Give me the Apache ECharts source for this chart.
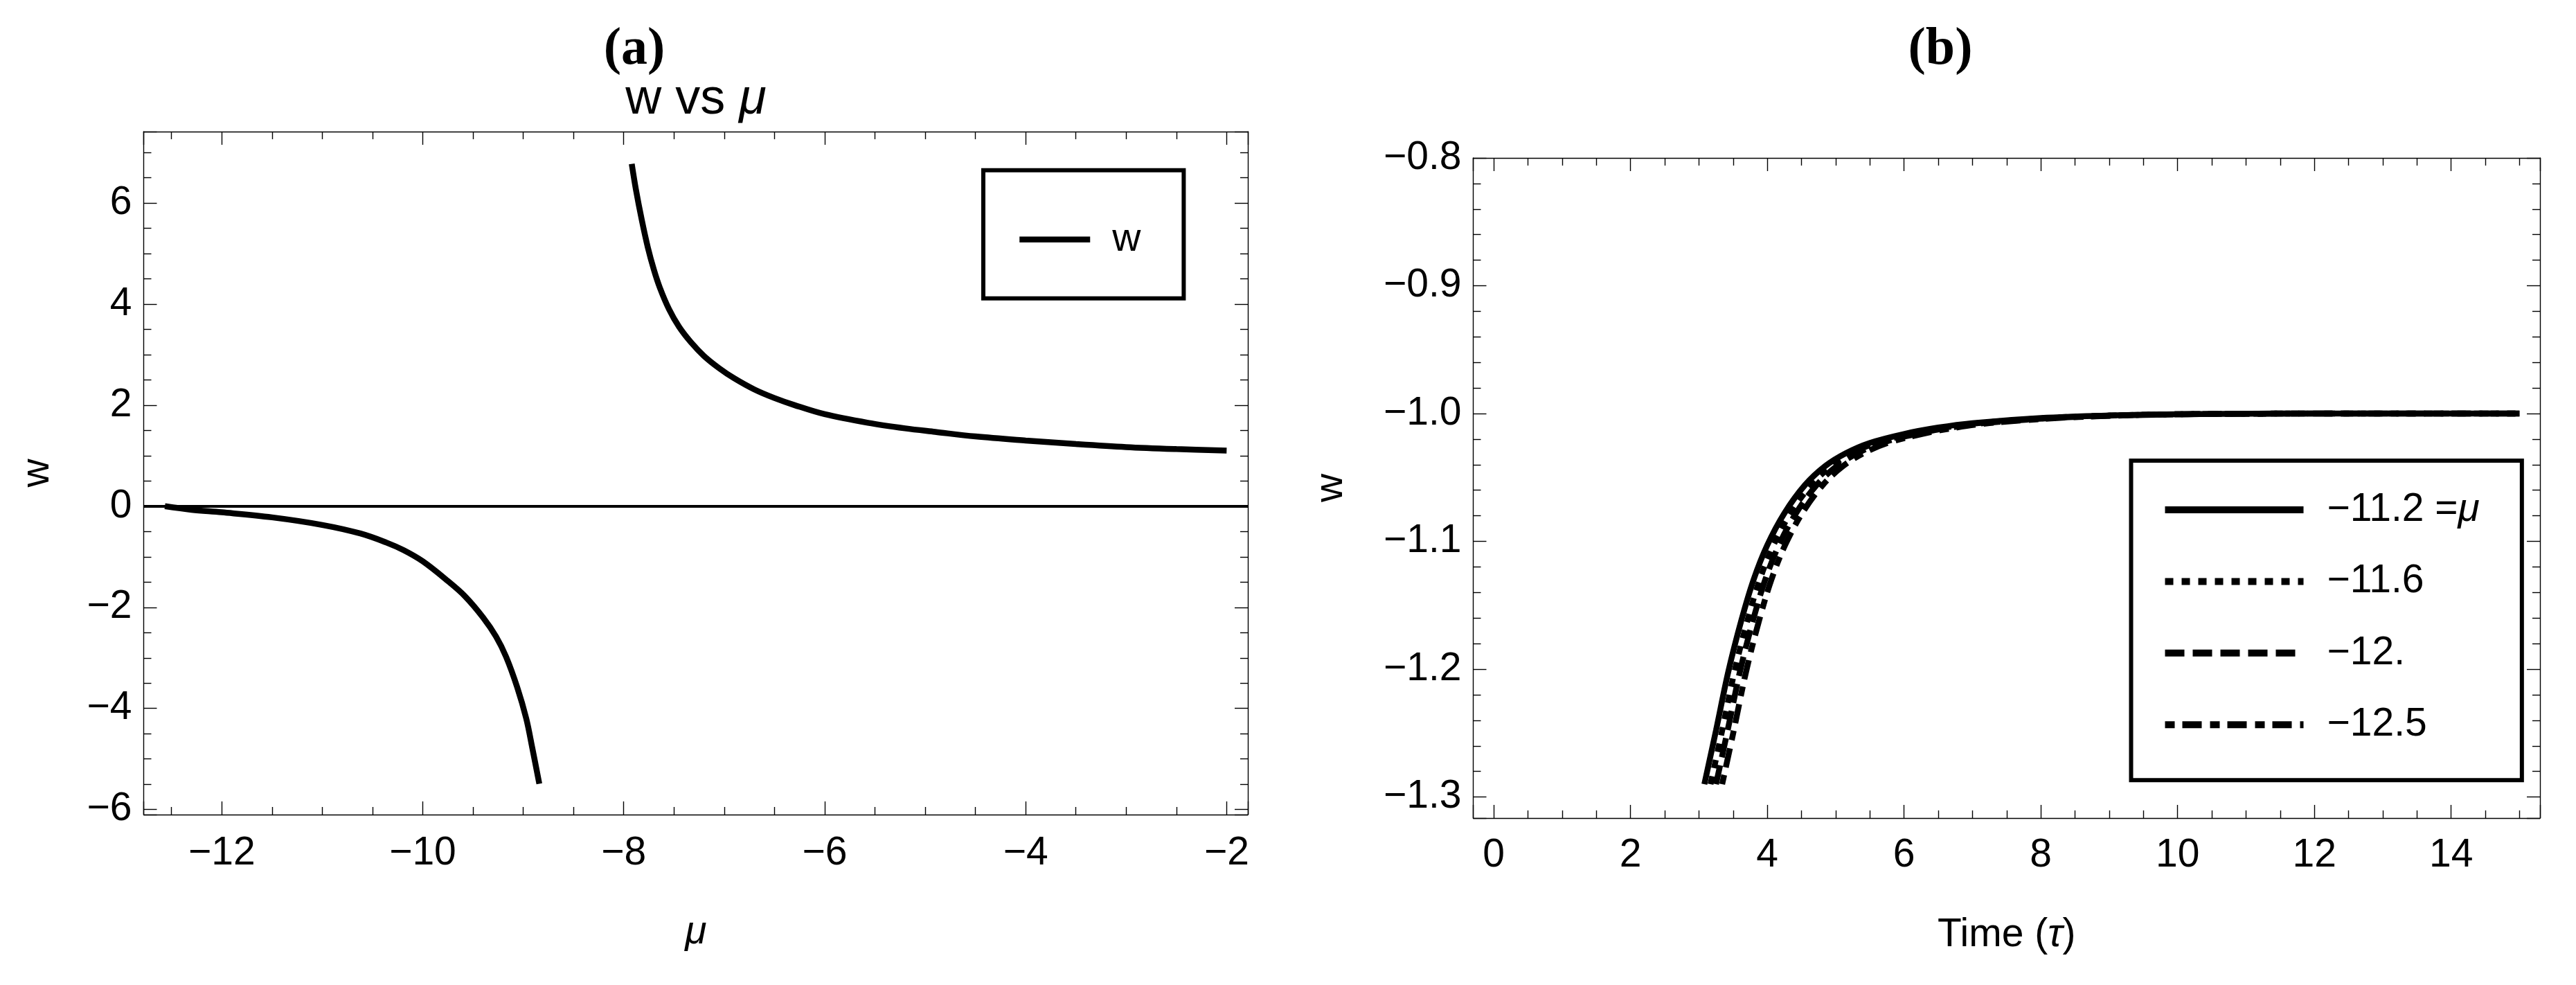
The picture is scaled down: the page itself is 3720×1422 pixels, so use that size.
<!DOCTYPE html>
<html>
<head>
<meta charset="utf-8">
<title>w vs mu</title>
<script src="https://cdn.jsdelivr.net/npm/echarts@6/dist/echarts.min.js"></script>
<style>
  html, body { margin: 0; padding: 0; background: #fff; }
  #chart { width: 3720px; height: 1422px; }
</style>
</head>
<body>
<div id="chart"></div>
<script>
// panel (a): w against mu, two branches around the pole
const muUpper = [-7.92, -7.88, -7.82, -7.76, -7.70, -7.64, -7.55, -7.45, -7.33, -7.20, -7.05, -6.90, -6.70, -6.50, -6.30, -6.00, -5.57, -5.20, -4.90, -4.50, -4.00, -3.50, -3.00, -2.50, -2.00]
const wUpper = [6.77, 6.28, 5.66, 5.12, 4.68, 4.32, 3.90, 3.55, 3.24, 2.97, 2.73, 2.53, 2.31, 2.14, 2.00, 1.82, 1.65, 1.54, 1.47, 1.38, 1.30, 1.23, 1.17, 1.13, 1.10]
const muLower = [-12.566, -12.30, -12.00, -11.50, -11.00, -10.62, -10.36, -10.19, -10.00, -9.75, -9.58, -9.40, -9.27, -9.17, -9.06, -8.97, -8.91, -8.84]
const wLower = [0, -0.07, -0.12, -0.22, -0.37, -0.54, -0.72, -0.87, -1.09, -1.48, -1.78, -2.20, -2.58, -2.98, -3.58, -4.20, -4.78, -5.49]

// panel (b): w against time, one curve per mu
const muNames = ['−11.2', '−11.6', '−12.', '−12.5']
const wTime = [-1.290, -1.248, -1.202, -1.162, -1.130, -1.103, -1.078, -1.056, -1.041, -1.031, -1.023, -1.016, -1.011, -1.0075, -1.0035, -1.0015, -1.0005, -1.0, -1.0]
const tauMu112 = [3.08, 3.25, 3.43, 3.62, 3.80, 4.00, 4.25, 4.55, 4.85, 5.15, 5.50, 6.00, 6.50, 7.00, 8.00, 9.00, 10.0, 12.0, 15.0]
const tauMu116 = [3.17, 3.34, 3.52, 3.71, 3.89, 4.09, 4.34, 4.64, 4.94, 5.24, 5.59, 6.09, 6.59, 7.09, 8.09, 9.08, 10.05, 12.0, 15.0]
const tauMu120 = [3.25, 3.42, 3.60, 3.79, 3.97, 4.17, 4.42, 4.72, 5.02, 5.32, 5.67, 6.17, 6.67, 7.17, 8.16, 9.14, 10.1, 12.0, 15.0]
const tauMu125 = [3.34, 3.51, 3.69, 3.88, 4.06, 4.26, 4.51, 4.81, 5.11, 5.41, 5.76, 6.26, 6.76, 7.25, 8.24, 9.20, 10.15, 12.0, 15.0]

// plot ranges (data range plus mathematica's 2% padding)
const muRange = [-12.777, -1.789]
const wRange = [-6.1, 7.41]
const tauRange = [-0.3, 15.3]
const wTimeRange = [-1.3165, -0.8]

const font = '"Liberation Sans", Arial, sans-serif'
const black = '#000'

function pairs(xs, ys) {
  return xs.map((x, i) => [x, ys[i]])
}

function minus(s) {
  return String(s).replace('-', '−')
}

// label only the ticks that sit on the step, hide the padded ends
function stepLabel(step, digits) {
  return function(v) {
    const k = v / step
    if (Math.abs(k - Math.round(k)) > 1e-6) {
      return ''
    }
    return minus(digits ? v.toFixed(digits) : String(Math.round(v)))
  }
}

function frameAxis(opts) {
  const tickLine = { color: black, width: 1.4 }
  return Object.assign({
    type: 'value',
    axisLine: { show: true, onZero: false, lineStyle: tickLine },
    axisTick: { show: true, inside: true, length: 19, lineStyle: tickLine },
    minorTick: { show: true, splitNumber: 4, length: 11, lineStyle: tickLine },
    splitLine: { show: false },
    minorSplitLine: { show: false },
    axisLabel: { show: false }
  }, opts)
}

// axisIdx points at the bottom x axis / left y axis of the panel
function curve(name, axisIdx, xs, ys, dash, extra) {
  return Object.assign({
    name: name,
    type: 'line',
    xAxisIndex: axisIdx,
    yAxisIndex: axisIdx,
    showSymbol: false,
    symbol: 'none',
    smooth: 0.35,
    lineStyle: { color: black, width: 8.5, type: dash || 'solid' },
    itemStyle: { color: black },
    data: pairs(xs, ys)
  }, extra || {})
}

const labelStyle = { fontFamily: font, fontSize: 57, color: black }
const serif = '"Liberation Serif", "Times New Roman", serif'

const chart = echarts.init(document.getElementById('chart'))

const option = {
  animation: false,
  backgroundColor: '#fff',
  title: [{
    text: '(a)',
    left: 916,
    top: 72,
    padding: 0,
    textAlign: 'center',
    textVerticalAlign: 'middle',
    textStyle: { fontFamily: serif, fontWeight: 'bold', fontSize: 76, color: black }
  }, {
    text: '(b)',
    left: 2802,
    top: 72,
    padding: 0,
    textAlign: 'center',
    textVerticalAlign: 'middle',
    textStyle: { fontFamily: serif, fontWeight: 'bold', fontSize: 76, color: black }
  }, {
    text: 'w vs {i|μ}',
    left: 1005,
    top: 144,
    padding: 0,
    textAlign: 'center',
    textVerticalAlign: 'middle',
    textStyle: {
      fontFamily: font, fontWeight: 'normal', fontSize: 72, color: black,
      rich: { i: { fontFamily: font, fontSize: 72, fontStyle: 'italic', color: black } }
    }
  }],
  grid: [
    { left: 207.5, top: 190, width: 1594.5, height: 986, outerBoundsMode: 'none' },
    { left: 2127.5, top: 228, width: 1540.5, height: 953, outerBoundsMode: 'none' }
  ],
  legend: [{
    data: ['w'],
    orient: 'vertical',
    left: 1420,
    top: 245.8,
    padding: [70, 62, 55, 48],
    backgroundColor: '#fff',
    borderColor: black,
    borderWidth: 6,
    borderRadius: 0,
    itemWidth: 102,
    itemHeight: 2,
    itemGap: 0,
    selectedMode: false,
    lineStyle: { width: 8.5 },
    textStyle: { fontFamily: font, fontSize: 57, lineHeight: 60, color: black, padding: [0, 0, 0, 27] }
  }, {
    data: muNames,
    orient: 'vertical',
    left: 3077.5,
    top: 665,
    padding: [41, 61, 50, 44],
    backgroundColor: '#fff',
    borderColor: black,
    borderWidth: 6,
    borderRadius: 0,
    itemWidth: 200,
    itemHeight: 2,
    itemGap: 43.4,
    selectedMode: false,
    lineStyle: { width: 10 },
    formatter(name) {
      return name === muNames[0] ? name + ' ={i|μ}' : name
    },
    textStyle: {
      fontFamily: font, fontSize: 57, lineHeight: 60, color: black, padding: [0, 0, 0, 29],
      rich: { i: { fontFamily: font, fontSize: 57, fontStyle: 'italic', color: black } }
    }
  }],
  xAxis: [
    frameAxis({
      gridIndex: 0, position: 'bottom', min: muRange[0], max: muRange[1], splitNumber: 5,
      axisLabel: { show: true, margin: 28, formatter: stepLabel(2, 0), showMinLabel: false, showMaxLabel: false, ...labelStyle },
      name: 'μ', nameLocation: 'middle', nameGap: 142,
      nameTextStyle: { ...labelStyle, fontStyle: 'italic' }
    }),
    frameAxis({ gridIndex: 0, position: 'top', min: muRange[0], max: muRange[1], splitNumber: 5 }),
    frameAxis({
      gridIndex: 1, position: 'bottom', min: tauRange[0], max: tauRange[1], splitNumber: 8,
      axisLabel: { show: true, margin: 26, formatter: stepLabel(2, 0), showMinLabel: false, showMaxLabel: false, ...labelStyle },
      name: 'Time ({i|τ})', nameLocation: 'middle', nameGap: 141,
      nameTextStyle: { ...labelStyle, rich: { i: { ...labelStyle, fontStyle: 'italic' } } }
    }),
    frameAxis({ gridIndex: 1, position: 'top', min: tauRange[0], max: tauRange[1], splitNumber: 8 })
  ],
  yAxis: [
    frameAxis({
      gridIndex: 0, position: 'left', min: wRange[0], max: wRange[1], splitNumber: 7,
      axisLabel: { show: true, margin: 17, formatter: stepLabel(2, 0), showMinLabel: false, showMaxLabel: false, ...labelStyle },
      name: 'w', nameLocation: 'middle', nameGap: 125,
      nameTextStyle: labelStyle
    }),
    frameAxis({ gridIndex: 0, position: 'right', min: wRange[0], max: wRange[1], splitNumber: 7 }),
    frameAxis({
      gridIndex: 1, position: 'left', min: wTimeRange[0], max: wTimeRange[1], splitNumber: 5,
      minorTick: { show: true, splitNumber: 5, length: 11, lineStyle: { color: black, width: 1.4 } },
      axisLabel: { show: true, margin: 17, formatter: stepLabel(0.1, 1), showMinLabel: false, ...labelStyle },
      name: 'w', nameLocation: 'middle', nameGap: 177,
      nameTextStyle: labelStyle
    }),
    frameAxis({
      gridIndex: 1, position: 'right', min: wTimeRange[0], max: wTimeRange[1], splitNumber: 5,
      minorTick: { show: true, splitNumber: 5, length: 11, lineStyle: { color: black, width: 1.4 } }
    })
  ],
  series: [
    curve('w', 0, muUpper, wUpper),
    curve('w', 0, muLower, wLower, 'solid', {
      markLine: {
        silent: true,
        symbol: 'none',
        label: { show: false },
        lineStyle: { color: black, width: 3.8, type: 'solid' },
        data: [{ yAxis: 0 }]
      }
    }),
    curve(muNames[0], 2, tauMu112, wTime, 'solid'),
    curve(muNames[1], 2, tauMu116, wTime, [12, 12]),
    curve(muNames[2], 2, tauMu120, wTime, [28, 12]),
    curve(muNames[3], 2, tauMu125, wTime, [14, 11, 28, 12])
  ]
}

chart.setOption(option)
</script>
</body>
</html>
